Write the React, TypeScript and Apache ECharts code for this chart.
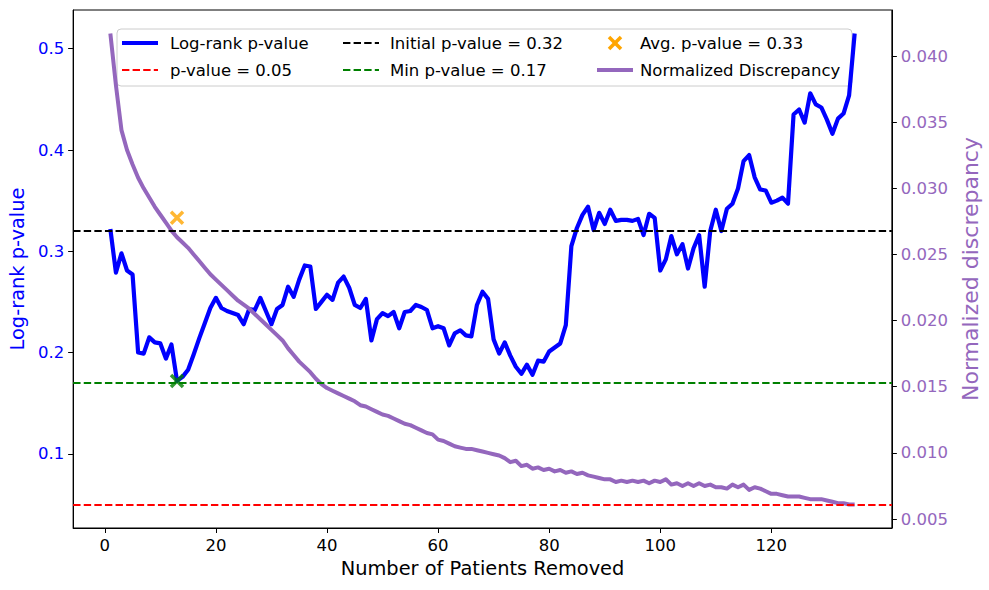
import React, { useEffect, useRef } from "react";
import * as echarts from "echarts";

// Log-rank p-value after removing n patients (n = 1 .. 135)
const pValues = [
  0.322, 0.279, 0.298, 0.281, 0.277, 0.200, 0.199, 0.215, 0.210, 0.209,
  0.194, 0.208, 0.172, 0.176, 0.183, 0.198, 0.214, 0.229, 0.244, 0.254,
  0.244, 0.241, 0.239, 0.237, 0.228, 0.243, 0.242, 0.254, 0.241, 0.228,
  0.243, 0.247, 0.265, 0.255, 0.272, 0.286, 0.285, 0.243, 0.250, 0.257,
  0.252, 0.269, 0.275, 0.264, 0.247, 0.244, 0.253, 0.212, 0.233, 0.239,
  0.236, 0.240, 0.224, 0.240, 0.241, 0.247, 0.245, 0.242, 0.224, 0.226,
  0.224, 0.207, 0.219, 0.222, 0.217, 0.216, 0.247, 0.260, 0.253, 0.213,
  0.199, 0.210, 0.197, 0.186, 0.179, 0.188, 0.178, 0.192, 0.191, 0.201,
  0.205, 0.209, 0.227, 0.305, 0.323, 0.336, 0.344, 0.321, 0.338, 0.327,
  0.341, 0.330, 0.331, 0.331, 0.330, 0.332, 0.316, 0.337, 0.333, 0.281,
  0.292, 0.315, 0.297, 0.307, 0.283, 0.303, 0.316, 0.265, 0.320, 0.341,
  0.320, 0.342, 0.347, 0.362, 0.389, 0.395, 0.373, 0.361, 0.360, 0.348,
  0.350, 0.353, 0.347, 0.435, 0.440, 0.427, 0.456, 0.445, 0.442, 0.430,
  0.416, 0.431, 0.436, 0.454, 0.515,
];

// Normalized discrepancy (right axis)
const discrepancy = [
  0.0417, 0.0378, 0.0344, 0.0329, 0.0318, 0.0308, 0.0300, 0.0293, 0.0286, 0.0280,
  0.0274, 0.0268, 0.0263, 0.0259, 0.0255, 0.0250, 0.0245, 0.0240, 0.0235, 0.0231,
  0.0227, 0.0223, 0.0219, 0.0215, 0.0212, 0.0209, 0.0205, 0.0201, 0.0197, 0.0193,
  0.0189, 0.0185, 0.0179, 0.0174, 0.0169, 0.0165, 0.0161, 0.0156, 0.0152, 0.0149,
  0.0147, 0.0145, 0.0143, 0.0141, 0.0139, 0.0136, 0.0135, 0.0133, 0.0131, 0.0129,
  0.0128, 0.0126, 0.0124, 0.0122, 0.0121, 0.0119, 0.0117, 0.0115, 0.0114, 0.0110,
  0.0109, 0.0107, 0.0105, 0.0104, 0.0103, 0.0103, 0.0102, 0.0101, 0.0100, 0.0099,
  0.0098, 0.0096, 0.0093, 0.0094, 0.0090, 0.0091, 0.0088, 0.0089, 0.0087, 0.0088,
  0.0086, 0.0087, 0.0085, 0.0086, 0.0084, 0.0085, 0.0083, 0.0082, 0.0081, 0.0080,
  0.0080, 0.0078, 0.0079, 0.0078, 0.0079, 0.0078, 0.0079, 0.0077, 0.0079, 0.0078,
  0.0080, 0.0076, 0.0077, 0.0075, 0.0077, 0.0075, 0.0077, 0.0075, 0.0076, 0.0074,
  0.0074, 0.0073, 0.0076, 0.0074, 0.0076, 0.0072, 0.0074, 0.0073, 0.0071, 0.0069,
  0.0069, 0.0068, 0.0067, 0.0067, 0.0067, 0.0066, 0.0065, 0.0065, 0.0065, 0.0064,
  0.0063, 0.0062, 0.0062, 0.0061, 0.0061,
];

const patientsRemoved = pValues.map((_, i) => i + 1);

const xTicks = [0, 20, 40, 60, 80, 100, 120];
const leftTicks = [0.1, 0.2, 0.3, 0.4, 0.5];
const rightTicks = [0.005, 0.01, 0.015, 0.02, 0.025, 0.03, 0.035, 0.04];

const significanceLevel = 0.05;
const avgPValue = 0.333;
const initialPValue = pValues[0];
const minPValue = Math.min(...pValues);
const minIndex = pValues.indexOf(minPValue);
const minPatients = patientsRemoved[minIndex];

const xRange = [-5.7, 141.7];
const leftRange = [0.02675, 0.53825];
const rightRange = [0.00432, 0.04348];

const FONT = "DejaVu Sans";
const BLUE = "#0000ff";
const PURPLE = "#9467bd";
const ORANGE = "#ffa500";
const GREEN = "#008000";
const DASH = [7.4, 3.2];

export default function App() {
  const ref = useRef<HTMLDivElement>(null);
  useEffect(() => {
    const chart = echarts.init(ref.current!, null, { renderer: "svg" });
    const xSym = "path://M0 0L10 10M10 0L0 10";

    const legendRows = [43, 70];
    const col1 = 122, col2 = 343, col3 = 597, handleLen = 36;
    const textStyle = (txt: string) => ({ text: txt, fill: "#000", font: `16.5px "${FONT}"`, verticalAlign: "middle", align: "left" });

    const option: any = {
      animation: false,
      backgroundColor: "#fff",
      grid: { left: 72, right: 92, top: 10, bottom: 62, show: true, borderColor: "#000", borderWidth: 1, backgroundColor: "transparent" },
      xAxis: {
        type: "value",
        min: xRange[0],
        max: xRange[1],
        name: "Number of Patients Removed",
        nameLocation: "middle",
        nameGap: 31,
        nameTextStyle: { fontFamily: FONT, fontSize: 19.4, color: "#000" },
        axisLine: { show: true, onZero: false, lineStyle: { color: "#000", width: 1 } },
        axisTick: { show: true, length: 5, lineStyle: { color: "#000", width: 1 }, customValues: xTicks },
        axisLabel: { fontFamily: FONT, fontSize: 16.5, color: "#000", margin: 9, customValues: xTicks, formatter: (v: number) => String(v) },
        splitLine: { show: false },
      },
      yAxis: [
        {
          type: "value",
          position: "left",
          min: leftRange[0],
          max: leftRange[1],
          name: "Log-rank p-value",
          nameLocation: "middle",
          nameRotate: 90,
          nameGap: 43,
          nameTextStyle: { fontFamily: FONT, fontSize: 19.4, color: BLUE },
          axisLine: { show: true, onZero: false, lineStyle: { color: "#000", width: 1 } },
          axisTick: { show: true, length: 5, lineStyle: { color: "#000", width: 1 }, customValues: leftTicks },
          axisLabel: { fontFamily: FONT, fontSize: 16.5, color: BLUE, margin: 9, customValues: leftTicks, formatter: (v: number) => v.toFixed(1) },
          splitLine: { show: false },
        },
        {
          type: "value",
          position: "right",
          min: rightRange[0],
          max: rightRange[1],
          name: "Normalized discrepancy",
          nameLocation: "middle",
          nameRotate: 90,
          nameGap: 60,
          nameTextStyle: { fontFamily: FONT, fontSize: 22, color: PURPLE },
          axisLine: { show: true, onZero: false, lineStyle: { color: "#000", width: 1 } },
          axisTick: { show: true, length: 5, lineStyle: { color: "#000", width: 1 }, customValues: rightTicks },
          axisLabel: { fontFamily: FONT, fontSize: 16.5, color: PURPLE, margin: 9, customValues: rightTicks, formatter: (v: number) => v.toFixed(3) },
          splitLine: { show: false },
        },
      ],
      series: [
        {
          name: "Log-rank p-value",
          type: "line",
          yAxisIndex: 0,
          data: pValues.map((v, i) => [patientsRemoved[i], v]),
          showSymbol: false,
          symbol: "none",
          lineStyle: { color: BLUE, width: 4.2, join: "round" },
          z: 2,
          markLine: {
            silent: true,
            symbol: ["none", "none"],
            label: { show: false },
            data: [
              { yAxis: significanceLevel, lineStyle: { color: "#ff0000", type: DASH, width: 2 } },
              { yAxis: initialPValue, lineStyle: { color: "#000000", type: DASH, width: 2 } },
              { yAxis: minPValue, lineStyle: { color: GREEN, type: DASH, width: 2 } },
            ],
          },
        },
        {
          name: "Avg. p-value",
          type: "scatter",
          yAxisIndex: 0,
          data: [[minPatients, avgPValue]],
          symbol: xSym,
          symbolSize: 12,
          itemStyle: { color: ORANGE, borderColor: ORANGE, borderWidth: 3.5 },
          z: 3,
        },
        {
          name: "Min p-value",
          type: "scatter",
          yAxisIndex: 0,
          data: [[minPatients, minPValue]],
          symbol: xSym,
          symbolSize: 12,
          itemStyle: { color: GREEN, borderColor: GREEN, borderWidth: 3.5 },
          z: 3,
        },
        {
          name: "Normalized Discrepancy",
          type: "line",
          yAxisIndex: 1,
          data: discrepancy.map((v, i) => [patientsRemoved[i], v]),
          showSymbol: false,
          symbol: "none",
          lineStyle: { color: PURPLE, width: 4, join: "round" },
          z: 4,
        },
      ],
      graphic: [
        {
          type: "group",
          z: 100,
          children: [
            { type: "rect", shape: { x: 117, y: 29, width: 735, height: 57, r: 4 }, style: { fill: "rgba(255,255,255,0.8)", stroke: "#cccccc", lineWidth: 1 } },
            { type: "line", shape: { x1: col1, y1: legendRows[0], x2: col1 + handleLen, y2: legendRows[0] }, style: { stroke: BLUE, lineWidth: 4.2 } },
            { type: "text", x: 170, y: legendRows[0], style: textStyle("Log-rank p-value") },
            { type: "line", shape: { x1: col1, y1: legendRows[1], x2: col1 + handleLen, y2: legendRows[1] }, style: { stroke: "#ff0000", lineWidth: 2, lineDash: DASH } },
            { type: "text", x: 170, y: legendRows[1], style: textStyle(`p-value = ${significanceLevel.toFixed(2)}`) },
            { type: "line", shape: { x1: col2, y1: legendRows[0], x2: col2 + handleLen, y2: legendRows[0] }, style: { stroke: "#000", lineWidth: 2, lineDash: DASH } },
            { type: "text", x: 390, y: legendRows[0], style: textStyle(`Initial p-value = ${initialPValue.toFixed(2)}`) },
            { type: "line", shape: { x1: col2, y1: legendRows[1], x2: col2 + handleLen, y2: legendRows[1] }, style: { stroke: GREEN, lineWidth: 2, lineDash: DASH } },
            { type: "text", x: 390, y: legendRows[1], style: textStyle(`Min p-value = ${minPValue.toFixed(2)}`) },
            { type: "line", shape: { x1: col3 + 12, y1: legendRows[0] - 6, x2: col3 + 24, y2: legendRows[0] + 6 }, style: { stroke: ORANGE, lineWidth: 3.5 } },
            { type: "line", shape: { x1: col3 + 12, y1: legendRows[0] + 6, x2: col3 + 24, y2: legendRows[0] - 6 }, style: { stroke: ORANGE, lineWidth: 3.5 } },
            { type: "text", x: 640, y: legendRows[0], style: textStyle(`Avg. p-value = ${avgPValue.toFixed(2)}`) },
            { type: "line", shape: { x1: col3, y1: legendRows[1], x2: col3 + handleLen, y2: legendRows[1] }, style: { stroke: PURPLE, lineWidth: 4 } },
            { type: "text", x: 640, y: legendRows[1], style: textStyle("Normalized Discrepancy") },
          ],
        },
      ],
    };
    chart.setOption(option);
    return () => chart.dispose();
  }, []);
  return <div ref={ref} style={{ position: "fixed", left: 0, top: 0, width: 989, height: 590, background: "#fff" }} />;
}
